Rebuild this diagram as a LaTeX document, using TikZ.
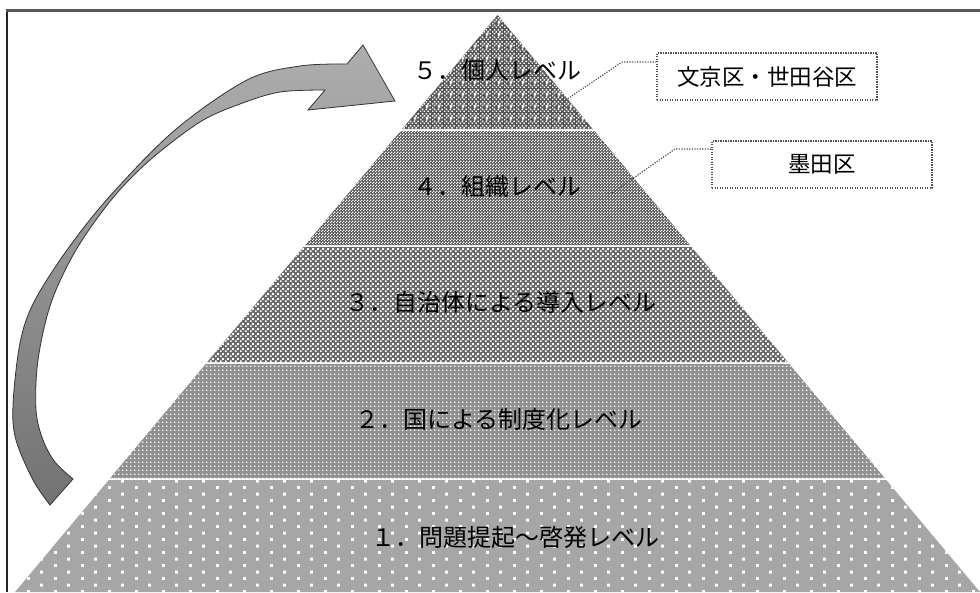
\documentclass[tikz,border=0pt]{standalone}
\usepackage{fontspec}
\newfontfamily\jp{Noto Sans CJK JP}
\usetikzlibrary{patterns.meta}
\definecolor{bandA}{HTML}{A6A6A6}
\definecolor{bandB}{HTML}{909090}
\definecolor{bandC}{HTML}{6C6C6C}
\definecolor{bandD}{HTML}{565656}
\definecolor{bandE}{HTML}{555555}
\definecolor{leadc}{HTML}{505050}
\tikzdeclarepattern{name=bigdots,type=uncolored,bottom left={(0pt,0pt)},top right={(27pt,13.4pt)},tile size={(27pt,13.4pt)},
  code={\pgfpathrectangle{\pgfpoint{0pt}{0pt}}{\pgfpoint{3pt}{3pt}}\pgfpathrectangle{\pgfpoint{13.5pt}{6.7pt}}{\pgfpoint{3pt}{3pt}}\pgfusepath{fill}}}
\tikzdeclarepattern{name=smalldots,type=uncolored,bottom left={(0pt,0pt)},top right={(4.4pt,4.4pt)},tile size={(4.4pt,4.4pt)},
  code={\pgfpathrectangle{\pgfpoint{0pt}{0pt}}{\pgfpoint{1.6pt}{1.6pt}}\pgfusepath{fill}}}
\tikzdeclarepattern{name=diamonds,type=uncolored,bottom left={(0pt,0pt)},top right={(5pt,5pt)},tile size={(5pt,5pt)},
  code={\pgfpathrectangle{\pgfpoint{0pt}{0pt}}{\pgfpoint{2pt}{2pt}}\pgfpathrectangle{\pgfpoint{2.5pt}{2.5pt}}{\pgfpoint{2pt}{2pt}}\pgfusepath{fill}}}
\tikzdeclarepattern{name=finechk,type=uncolored,bottom left={(0pt,0pt)},top right={(3pt,3pt)},tile size={(3pt,3pt)},
  code={\pgfpathrectangle{\pgfpoint{0pt}{0pt}}{\pgfpoint{1.5pt}{1.5pt}}\pgfpathrectangle{\pgfpoint{1.5pt}{1.5pt}}{\pgfpoint{1.5pt}{1.5pt}}\pgfusepath{fill}}}
\tikzdeclarepattern{name=crosschk,type=uncolored,bottom left={(0pt,0pt)},top right={(12pt,12pt)},tile size={(12pt,12pt)},
  code={\pgfpathrectangle{\pgfpoint{0pt}{0pt}}{\pgfpoint{1.6pt}{1.6pt}}\pgfpathrectangle{\pgfpoint{2pt}{2pt}}{\pgfpoint{1.6pt}{1.6pt}}%
        \pgfpathrectangle{\pgfpoint{4pt}{0pt}}{\pgfpoint{1.6pt}{1.6pt}}\pgfpathrectangle{\pgfpoint{6pt}{2pt}}{\pgfpoint{1.6pt}{1.6pt}}%
        \pgfpathrectangle{\pgfpoint{8pt}{0pt}}{\pgfpoint{1.6pt}{1.6pt}}\pgfpathrectangle{\pgfpoint{10pt}{2pt}}{\pgfpoint{1.6pt}{1.6pt}}%
        \pgfpathrectangle{\pgfpoint{0pt}{4pt}}{\pgfpoint{1.6pt}{1.6pt}}\pgfpathrectangle{\pgfpoint{2pt}{6pt}}{\pgfpoint{1.6pt}{1.6pt}}%
        \pgfpathrectangle{\pgfpoint{0pt}{8pt}}{\pgfpoint{1.6pt}{1.6pt}}\pgfpathrectangle{\pgfpoint{2pt}{10pt}}{\pgfpoint{1.6pt}{1.6pt}}%
        \pgfpathrectangle{\pgfpoint{6pt}{5pt}}{\pgfpoint{3pt}{2pt}}\pgfpathrectangle{\pgfpoint{7pt}{4pt}}{\pgfpoint{1pt}{4pt}}%
        \pgfpathrectangle{\pgfpoint{4pt}{8pt}}{\pgfpoint{1.6pt}{1.6pt}}\pgfpathrectangle{\pgfpoint{8pt}{8pt}}{\pgfpoint{1.6pt}{1.6pt}}%
        \pgfpathrectangle{\pgfpoint{10pt}{10pt}}{\pgfpoint{1.6pt}{1.6pt}}\pgfpathrectangle{\pgfpoint{6pt}{10pt}}{\pgfpoint{1.6pt}{1.6pt}}%
        \pgfpathrectangle{\pgfpoint{10pt}{6pt}}{\pgfpoint{1.6pt}{1.6pt}}\pgfusepath{fill}}}
\tikzset{
  lbl/.style={font=\jp\fontsize{24}{28}\selectfont, inner sep=0pt},
  boxlbl/.style={font=\jp\fontsize{22.5}{26}\selectfont, draw=leadc, line width=1.2pt, dash pattern=on 1.2pt off 1.3pt,
     minimum width=220pt, minimum height=47pt, inner sep=0pt},
  leader/.style={draw=leadc, line width=1.2pt, dash pattern=on 1.2pt off 1.4pt},
  bigarrow/.style={draw=black!80, line width=0.8pt, top color=black!32, bottom color=black!55},
}
\begin{document}
\begin{tikzpicture}[x=1pt,y=-1pt]
\useasboundingbox (0,0) rectangle (980,592);
\fill[white] (0,0) rectangle (980,592);
% pyramid bands
\path[fill=bandA, postaction={pattern=bigdots, pattern color=white}]
  (108.7,480) -- (886.3,480) -- (980,592) -- (15,592) -- cycle;
\path[fill=bandB, postaction={pattern=smalldots, pattern color=white}]
  (205.7,364) -- (789.3,364) -- (884.7,478) -- (110.3,478) -- cycle;
\path[fill=bandC, postaction={pattern=diamonds, pattern color=white}]
  (303.5,247) -- (691.5,247) -- (787.7,362) -- (207.3,362) -- cycle;
\path[fill=bandD, postaction={pattern=finechk, pattern color=white}]
  (400.5,131) -- (594.5,131) -- (689.8,245) -- (305.2,245) -- cycle;
\path[fill=bandE, postaction={pattern=crosschk, pattern color=white}]
  (497.5,15) -- (592.8,129) -- (402.2,129) -- cycle;
% frame
\draw[line width=1.5pt, black!85] (7,10) -- (7,592);
\draw[line width=2.2pt, black!65] (6.25,10.5) -- (980,10.5);
% curved arrow
\path[bigarrow]
  plot[smooth, tension=0.55] coordinates {(50,505) (33,480) (16,440) (13,405) (20,343) (34,302) (67,250) (110,196) (175,130) (247,80) (300,66) (347,64)}
  -- (363,45) -- (395,101) -- (308,110) -- (325,90)
  -- plot[smooth, tension=0.55] coordinates {(325,90) (280,92) (240,104) (200,122) (150,160) (112,199) (76,250) (51,303) (38,360) (36,410) (43,440) (55,462) (73,479)}
  -- cycle;
% labels
\node[lbl] (l5) at (497,70) {５．個人レベル};
\node[lbl] (l4) at (497,186) {４．組織レベル};
\node[lbl] (l3) at (501,302) {３．自治体による導入レベル};
\node[lbl] (l2) at (499,419) {２．国による制度化レベル};
\node[lbl] (l1) at (515,537) {１．問題提起～啓発レベル};
% callout boxes
\node[boxlbl] (b1) at (767,76.5) {文京区・世田谷区};
\node[boxlbl] (b2) at (822,164.5) {墨田区};
\coordinate (p5) at (557,106);
\coordinate (k5) at (622,62);
\coordinate (p4) at (612,193);
\coordinate (k4) at (675,149);
\draw[leader] (p5) -- (k5) -- (k5 -| b1.west);
\draw[leader] (p4) -- (k4) -- (k4 -| b2.west);
\end{tikzpicture}
\end{document}
